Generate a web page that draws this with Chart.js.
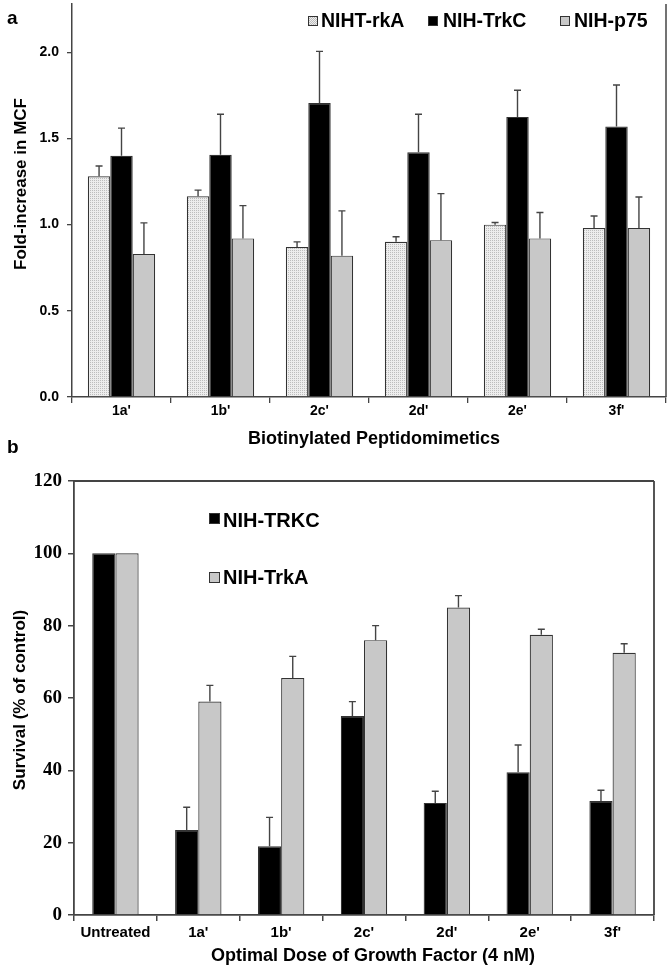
<!DOCTYPE html>
<html>
<head>
<meta charset="utf-8">
<script src="https://cdn.jsdelivr.net/npm/chart.js@4.4.0/dist/chart.umd.min.js"></script>
<style>
  html, body { margin: 0; padding: 0; background: #fff; }
  #page { position: relative; width: 672px; height: 971px; overflow: hidden;
          font-family: 'Liberation Sans', Arial, sans-serif; font-weight: bold; color: #000; }
  canvas { position: absolute; left: 0; }
  #chartA { top: 0; }
  #chartB { top: 470px; }
  .txt { position: absolute; white-space: nowrap; line-height: 1; transform: translateY(-50%); }
  .rot { position: absolute; white-space: nowrap; line-height: 1; transform: translate(-50%, -50%) rotate(-90deg); }
  .ctr { position: absolute; white-space: nowrap; line-height: 1; transform: translate(-50%, -50%); }
  .sw  { position: absolute; box-sizing: border-box; border: 1px solid #333; }
</style>
</head>
<body>
<div id="page">
  <canvas id="chartA" width="672" height="470"></canvas>
  <canvas id="chartB" width="672" height="501"></canvas>

  <!-- panel a -->
  <div class="txt" style="left:7px;top:17px;font-size:19px;">a</div>
  <div class="sw" id="swDots" style="left:308px;top:16px;width:10px;height:10px;"></div>
  <div class="txt" style="left:321px;top:21px;font-size:19.5px;">NIHT-rkA</div>
  <div class="sw" style="left:428px;top:16px;width:10px;height:10px;background:#000;"></div>
  <div class="txt" style="left:443px;top:21px;font-size:19.5px;">NIH-TrkC</div>
  <div class="sw" style="left:560px;top:16px;width:10px;height:10px;background:#c8c8c8;"></div>
  <div class="txt" style="left:574px;top:21px;font-size:19.5px;">NIH-p75</div>
  <div class="rot" style="left:20px;top:184px;font-size:17px;">Fold-increase in MCF</div>
  <div class="ctr" style="left:374px;top:438px;font-size:18px;">Biotinylated Peptidomimetics</div>

  <!-- panel b -->
  <div class="txt" style="left:7px;top:446px;font-size:19px;">b</div>
  <div class="sw" style="left:209px;top:513px;width:11px;height:11px;background:#000;"></div>
  <div class="txt" style="left:223px;top:520px;font-size:20px;">NIH-TRKC</div>
  <div class="sw" style="left:209px;top:572px;width:11px;height:11px;background:#c8c8c8;"></div>
  <div class="txt" style="left:223px;top:577px;font-size:20px;">NIH-TrkA</div>
  <div class="rot" style="left:19px;top:700px;font-size:17px;">Survival (% of control)</div>
  <div class="ctr" style="left:373px;top:955px;font-size:18px;">Optimal Dose of Growth Factor (4 nM)</div>
</div>

<script>
// ---------- data ----------
// (a) fold-increase in MCF
const compoundsA  = ["1a'", "1b'", "2c'", "2d'", "2e'", "3f'"];
const trkAFold    = [1.28, 1.165, 0.87, 0.90, 1.00, 0.98];
const trkAFoldSd  = [0.06, 0.035, 0.03, 0.03, 0.012, 0.07];
const trkCFold    = [1.40, 1.405, 1.705, 1.42, 1.625, 1.57];
const trkCFoldSd  = [0.16, 0.235, 0.30, 0.22, 0.155, 0.24];
const p75Fold     = [0.83, 0.92, 0.82, 0.91, 0.92, 0.98];
const p75FoldSd   = [0.18, 0.19, 0.26, 0.27, 0.15, 0.18];
const ticksA      = [0, 0.5, 1.0, 1.5, 2.0];

// (b) survival, % of control
const treatmentsB = ['Untreated', "1a'", "1b'", "2c'", "2d'", "2e'", "3f'"];
const trkcSurv    = [100, 23.5, 19, 55, 31, 39.5, 31.5];
const trkcSurvSd  = [null, 6.3, 8, 4, 3.2, 7.5, 3];
const trkaSurv    = [100, 59, 65.5, 76, 85, 77.5, 72.5];
const trkaSurvSd  = [null, 4.5, 6, 4, 3.3, 1.5, 2.5];
const ticksB      = [0, 20, 40, 60, 80, 100, 120];

const SANS  = "'Liberation Sans', Arial, sans-serif";
const SERIF = "'Liberation Serif', 'Times New Roman', serif";
const AXIS  = '#444';

// stippled fill for the NIHT-rkA bars
function dotPattern() {
  const c = document.createElement('canvas');
  c.width = 2; c.height = 2;
  const g = c.getContext('2d');
  g.fillStyle = '#ededed'; g.fillRect(0, 0, 2, 2);
  g.fillStyle = '#bdbdbd'; g.fillRect(0, 0, 1, 1);
  return g.createPattern(c, 'repeat');
}
const dots = dotPattern();
document.getElementById('swDots').style.background =
  'repeating-conic-gradient(#bdbdbd 0 25%, #ededed 0 50%) 0 0 / 2px 2px';

// upper error bars, from each dataset's sd array
const errorBars = {
  id: 'errorBars',
  afterDatasetsDraw(chart) {
    const ctx = chart.ctx, y = chart.scales.y;
    ctx.save();
    ctx.strokeStyle = '#444';
    ctx.lineWidth = 1.4;
    chart.data.datasets.forEach((ds, di) => {
      if (!ds.sd) return;
      chart.getDatasetMeta(di).data.forEach((bar, i) => {
        if (ds.sd[i] == null) return;
        const top = y.getPixelForValue(ds.data[i] + ds.sd[i]);
        ctx.beginPath();
        ctx.moveTo(bar.x, bar.y);
        ctx.lineTo(bar.x, top);
        ctx.moveTo(bar.x - 3.5, top);
        ctx.lineTo(bar.x + 3.5, top);
        ctx.stroke();
      });
    });
    ctx.restore();
  }
};

// right edge (and optional top edge) of the plot frame
const frame = {
  id: 'frame',
  afterDraw(chart, args, opts) {
    const { ctx, chartArea: a } = chart;
    ctx.save();
    ctx.strokeStyle = AXIS;
    ctx.lineWidth = opts.width || 1.5;
    ctx.beginPath();
    if (opts.top) { ctx.moveTo(a.left, a.top); ctx.lineTo(a.right, a.top); }
    ctx.moveTo(a.right, a.top);
    ctx.lineTo(a.right, a.bottom);
    ctx.stroke();
    ctx.restore();
  }
};

function keepTicks(list) {
  return s => { s.ticks = list.map(v => ({ value: v })); };
}
// fixed axis width, no extra room for half tick labels
function fixWidth(w) {
  return s => { s.width = w; s.paddingTop = 0; s.paddingBottom = 0; };
}

// ---------- chart a ----------
new Chart(document.getElementById('chartA'), {
  type: 'bar',
  data: {
    labels: compoundsA,
    datasets: [
      { label: 'NIHT-rkA', data: trkAFold, sd: trkAFoldSd, backgroundColor: dots },
      { label: 'NIH-TrkC', data: trkCFold, sd: trkCFoldSd, backgroundColor: '#000' },
      { label: 'NIH-p75',  data: p75Fold,  sd: p75FoldSd,  backgroundColor: '#c8c8c8' }
    ].map(d => ({ ...d, borderColor: '#333', borderWidth: 1.2,
                  categoryPercentage: 0.68, barPercentage: 1.0 }))
  },
  plugins: [errorBars, frame],
  options: {
    responsive: false,
    animation: false,
    layout: { padding: { left: 0, right: 6, top: 4, bottom: 0 } },
    plugins: { legend: { display: false }, tooltip: { enabled: false }, frame: { width: 1.5 } },
    scales: {
      x: {
        afterFit: s => { s.height = 73; },
        grid: { drawOnChartArea: false, tickLength: 6, color: AXIS, lineWidth: 1.3, offset: true },
        border: { color: AXIS, width: 1.5 },
        ticks: { color: '#000', padding: 0, font: { family: SANS, size: 14, weight: 'bold' } }
      },
      y: {
        min: 0, max: 2.28,
        afterFit: fixWidth(72),
        afterBuildTicks: keepTicks(ticksA),
        grid: { drawOnChartArea: false, tickLength: 5, color: AXIS, lineWidth: 1.3 },
        border: { color: AXIS, width: 1.5 },
        ticks: { color: '#000', padding: 8, font: { family: SANS, size: 14, weight: 'bold' },
                 callback: v => v.toFixed(1) }
      }
    }
  }
});

// ---------- chart b ----------
new Chart(document.getElementById('chartB'), {
  type: 'bar',
  data: {
    labels: treatmentsB,
    datasets: [
      { label: 'NIH-TRKC', data: trkcSurv, sd: trkcSurvSd, backgroundColor: '#000' },
      { label: 'NIH-TrkA', data: trkaSurv, sd: trkaSurvSd, backgroundColor: '#c8c8c8' }
    ].map(d => ({ ...d, borderColor: '#333', borderWidth: 1.2,
                  categoryPercentage: 0.56, barPercentage: 1.0 }))
  },
  plugins: [errorBars, frame],
  options: {
    responsive: false,
    animation: false,
    layout: { padding: { left: 0, right: 18, top: 11, bottom: 0 } },
    plugins: { legend: { display: false }, tooltip: { enabled: false }, frame: { width: 1.8, top: true } },
    scales: {
      x: {
        afterFit: s => { s.height = 56; },
        grid: { drawOnChartArea: false, tickLength: 6, color: AXIS, lineWidth: 1.5, offset: true },
        border: { color: AXIS, width: 1.8 },
        ticks: { color: '#000', padding: 3, font: { family: SANS, size: 15, weight: 'bold' } }
      },
      y: {
        min: 0, max: 120,
        afterFit: fixWidth(74),
        afterBuildTicks: keepTicks(ticksB),
        grid: { drawOnChartArea: false, tickLength: 6, color: AXIS, lineWidth: 1.5 },
        border: { color: AXIS, width: 1.8 },
        ticks: { color: '#000', padding: 6, font: { family: SERIF, size: 19, weight: 'bold' } }
      }
    }
  }
});
</script>
</body>
</html>
